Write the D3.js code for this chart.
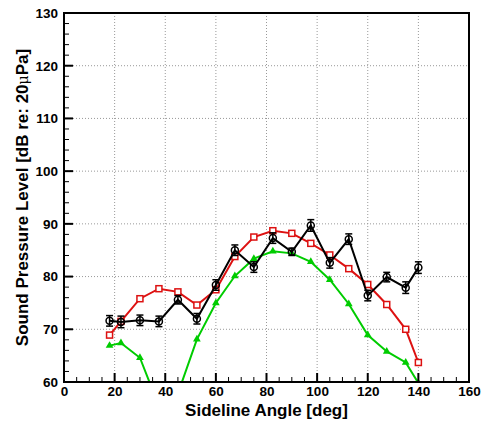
<!DOCTYPE html>
<html>
<head>
<meta charset="utf-8">
<script src="https://cdn.jsdelivr.net/npm/d3@7"></script>
<style>
  body { margin: 0; background: #fff; }
  text { font-family: "Liberation Sans", Arial, sans-serif; font-weight: bold; }
</style>
</head>
<body>
<div id="chart"></div>
<script>
// SVG size
var svgWidth = 484;
var svgHeight = 421;

var chartMargin = { top: 13, right: 15, bottom: 39, left: 64 };
var chartWidth = svgWidth - chartMargin.left - chartMargin.right;
var chartHeight = svgHeight - chartMargin.top - chartMargin.bottom;

// Data
var angles = [18, 22.5, 30, 37.5, 45, 52.5, 60, 67.5, 75, 82.5, 90, 97.5, 105, 112.5, 120, 127.5, 135, 140];
var measured = [71.6, 71.4, 71.7, 71.5, 75.6, 72.0, 78.4, 85.0, 81.8, 87.3, 84.7, 89.7, 82.6, 87.1, 76.4, 79.9, 77.9, 81.7];
var measuredErr = [1.0, 1.1, 1.0, 1.0, 0.8, 1.0, 1.0, 1.0, 1.0, 1.0, 0.7, 1.1, 1.0, 1.0, 1.0, 0.9, 1.1, 1.1];
var predictedA = [68.9, 71.5, 75.8, 77.7, 77.1, 74.6, 77.5, 83.8, 87.5, 88.7, 88.2, 86.3, 84.1, 81.5, 78.5, 74.7, 70.0, 63.7];
var predictedB = [66.9, 67.4, 64.6, 55.4, 57.8, 68.1, 75.0, 80.1, 83.4, 84.8, 84.4, 82.8, 79.4, 74.8, 68.9, 65.8, 63.7, 59.8];

var xTicks = [0, 20, 40, 60, 80, 100, 120, 140, 160];
var yTicks = [60, 70, 80, 90, 100, 110, 120, 130];

var svg = d3.select("#chart")
  .append("svg")
  .attr("width", svgWidth)
  .attr("height", svgHeight);

var chartGroup = svg.append("g")
  .attr("transform", `translate(${chartMargin.left}, ${chartMargin.top})`);

var xScale = d3.scaleLinear().domain([0, 160]).range([0, chartWidth]);
var yScale = d3.scaleLinear().domain([60, 130]).range([chartHeight, 0]);

// dotted grid
chartGroup.append("g")
  .selectAll("line")
  .data(xTicks.slice(1, -1))
  .enter().append("line")
  .attr("x1", d => xScale(d)).attr("x2", d => xScale(d))
  .attr("y1", 0).attr("y2", chartHeight)
  .attr("stroke", "#999").attr("stroke-width", 1).attr("stroke-dasharray", "1,2");

chartGroup.append("g")
  .selectAll("line")
  .data(yTicks.slice(1, -1))
  .enter().append("line")
  .attr("x1", 0).attr("x2", chartWidth)
  .attr("y1", d => yScale(d)).attr("y2", d => yScale(d))
  .attr("stroke", "#999").attr("stroke-width", 1).attr("stroke-dasharray", "1,2");

// clip the curves to the plot frame
svg.append("defs").append("clipPath").attr("id", "clip")
  .append("rect").attr("width", chartWidth).attr("height", chartHeight);

var plot = chartGroup.append("g").attr("clip-path", "url(#clip)");

var lineOf = function(vals) {
  return d3.line()
    .x((d, i) => xScale(angles[i]))
    .y(d => yScale(d))(vals);
};

// green series
plot.append("path")
  .attr("d", lineOf(predictedB))
  .attr("fill", "none").attr("stroke", "#00cc00").attr("stroke-width", 2);
plot.selectAll(".tri")
  .data(predictedB)
  .enter().append("path")
  .attr("class", "tri")
  .attr("transform", (d, i) => `translate(${xScale(angles[i])}, ${yScale(d)})`)
  .attr("d", d3.symbol().type(d3.symbolTriangle).size(26))
  .attr("fill", "#00cc00");

// red series
plot.append("path")
  .attr("d", lineOf(predictedA))
  .attr("fill", "none").attr("stroke", "#dd1111").attr("stroke-width", 2);
plot.selectAll(".sq")
  .data(predictedA)
  .enter().append("rect")
  .attr("class", "sq")
  .attr("x", (d, i) => xScale(angles[i]) - 3)
  .attr("y", d => yScale(d) - 3)
  .attr("width", 6).attr("height", 6)
  .attr("fill", "#fff").attr("stroke", "#dd1111").attr("stroke-width", 1.5);

// black measured series with error bars
plot.append("path")
  .attr("d", lineOf(measured))
  .attr("fill", "none").attr("stroke", "#000").attr("stroke-width", 2);

var errGroup = plot.selectAll(".err")
  .data(measured)
  .enter().append("g")
  .attr("class", "err");
errGroup.append("line")
  .attr("x1", (d, i) => xScale(angles[i])).attr("x2", (d, i) => xScale(angles[i]))
  .attr("y1", (d, i) => yScale(d - measuredErr[i])).attr("y2", (d, i) => yScale(d + measuredErr[i]))
  .attr("stroke", "#000").attr("stroke-width", 1.5);
errGroup.append("line")
  .attr("x1", (d, i) => xScale(angles[i]) - 3.5).attr("x2", (d, i) => xScale(angles[i]) + 3.5)
  .attr("y1", (d, i) => yScale(d + measuredErr[i])).attr("y2", (d, i) => yScale(d + measuredErr[i]))
  .attr("stroke", "#000").attr("stroke-width", 1.5);
errGroup.append("line")
  .attr("x1", (d, i) => xScale(angles[i]) - 3.5).attr("x2", (d, i) => xScale(angles[i]) + 3.5)
  .attr("y1", (d, i) => yScale(d - measuredErr[i])).attr("y2", (d, i) => yScale(d - measuredErr[i]))
  .attr("stroke", "#000").attr("stroke-width", 1.5);
errGroup.append("circle")
  .attr("cx", (d, i) => xScale(angles[i]))
  .attr("cy", d => yScale(d))
  .attr("r", 3.5)
  .attr("fill", "none").attr("stroke", "#000").attr("stroke-width", 1.5);

// axes: ticks point inward
var bottomAxis = d3.axisBottom(xScale).tickValues(xTicks).tickSize(0).tickPadding(4);
var leftAxis = d3.axisLeft(yScale).tickValues(yTicks).tickSize(0).tickPadding(6);

var gx = chartGroup.append("g")
  .attr("transform", `translate(0, ${chartHeight})`)
  .call(bottomAxis);
var gy = chartGroup.append("g").call(leftAxis);
[gx, gy].forEach(function(g) {
  g.select(".domain").remove();
  g.selectAll("text").attr("font-size", 13.5).attr("fill", "#000")
    .style("font-family", "'Liberation Sans', Arial, sans-serif").style("font-weight", "bold");
});

// major and minor tick marks
var xMinor = d3.range(0, 161, 5);
chartGroup.append("g").selectAll("line")
  .data(xMinor)
  .enter().append("line")
  .attr("x1", d => xScale(d)).attr("x2", d => xScale(d))
  .attr("y1", chartHeight)
  .attr("y2", d => chartHeight - (d % 20 === 0 ? 9 : 5))
  .attr("stroke", "#000")
  .attr("stroke-width", d => d % 20 === 0 ? 2 : 1);

var yMinor = d3.range(60, 131, 2);
chartGroup.append("g").selectAll("line")
  .data(yMinor)
  .enter().append("line")
  .attr("y1", d => yScale(d)).attr("y2", d => yScale(d))
  .attr("x1", 0)
  .attr("x2", d => d % 10 === 0 ? 9 : 5)
  .attr("stroke", "#000")
  .attr("stroke-width", d => d % 10 === 0 ? 2 : 1);

// frame
chartGroup.append("rect")
  .attr("width", chartWidth).attr("height", chartHeight)
  .attr("fill", "none").attr("stroke", "#000").attr("stroke-width", 2);

// axis titles
chartGroup.append("text")
  .attr("x", chartWidth / 2)
  .attr("y", chartHeight + 34)
  .attr("text-anchor", "middle")
  .attr("font-size", 17)
  .text("Sideline Angle [deg]");

var yTitle = chartGroup.append("text")
  .attr("transform", `translate(${-chartMargin.left + 28}, ${chartHeight / 2}) rotate(-90)`)
  .attr("text-anchor", "middle")
  .attr("font-size", 17);
yTitle.append("tspan").text("Sound Pressure Level [dB re: 20");
yTitle.append("tspan").attr("font-size", 14).attr("font-weight", "normal")
  .style("font-family", "'DejaVu Serif', serif").text("μ");
yTitle.append("tspan").text("Pa]");
</script>
</body>
</html>
